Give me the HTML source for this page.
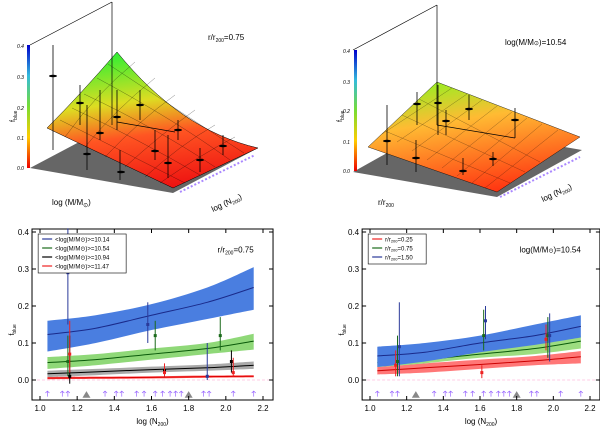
<!DOCTYPE html>
<html><head><meta charset="utf-8"><style>
body{margin:0;background:#fff;width:600px;height:427px;overflow:hidden;font-family:"Liberation Sans",sans-serif}
svg{position:absolute;left:0;top:0}
</style></head><body>
<svg id="s" width="600" height="427" xmlns="http://www.w3.org/2000/svg">
<defs>
<linearGradient id="cb" x1="0" y1="1" x2="0" y2="0"><stop offset="0" stop-color="#e00"/><stop offset="0.25" stop-color="#fc0"/><stop offset="0.5" stop-color="#7d3"/><stop offset="0.75" stop-color="#3bd"/><stop offset="1" stop-color="#00c"/></linearGradient>
<linearGradient id="sf1" x1="0.4" y1="0" x2="0.6" y2="1"><stop offset="0" stop-color="#3e3"/><stop offset="0.35" stop-color="#dd2"/><stop offset="0.6" stop-color="#f52"/><stop offset="1" stop-color="#e11"/></linearGradient>
<linearGradient id="sf2" x1="0.3" y1="0" x2="0.6" y2="1"><stop offset="0" stop-color="#9e2"/><stop offset="0.35" stop-color="#fb3"/><stop offset="1" stop-color="#f31"/></linearGradient>
</defs>
<g>
<polygon points="30,168 173,193 258,148 117,122" fill="#666"/>
<path d="M47,128 Q80,95 117,52 Q180,130 258,148 L173,188 Z" fill="url(#sf1)" stroke="#000" stroke-width="0.5"/>
<g stroke="#000" stroke-width="0.4" fill="none" opacity="0.6">
<path d="M60,120 Q120,150 185,183"/><path d="M72,108 Q140,140 200,175"/><path d="M84,94 Q160,130 215,167"/><path d="M97,78 Q175,120 230,160"/><path d="M108,64 Q185,115 244,153"/>
<path d="M65,137 Q95,95 135,62"/><path d="M85,147 Q115,110 155,78"/><path d="M105,157 Q140,120 175,95"/><path d="M125,167 Q160,135 195,110"/><path d="M145,177 Q180,145 215,125"/><path d="M160,183 Q200,155 235,137"/>
</g>
<line x1="112" y1="2" x2="112" y2="125" stroke="#000" stroke-width="0.7"/><line x1="112" y1="2" x2="30" y2="45" stroke="#000" stroke-width="0.7"/>
<line x1="117" y1="122" x2="175" y2="132" stroke="#000" stroke-width="0.7"/>
<rect x="27" y="45" width="3" height="123" fill="url(#cb)"/>
<g font-size="5" font-style="italic" fill="#000"><text x="17" y="48">0.4</text><text x="17" y="79">0.3</text><text x="17" y="110">0.2</text><text x="17" y="140">0.1</text><text x="17" y="170">0.0</text></g>
<text x="8" y="125" font-size="7" transform="rotate(-90 10 120)">f<tspan font-size="5" dy="2">blue</tspan></text>
<g stroke="#000" stroke-width="0.8"><line x1="53" y1="45" x2="53" y2="150"/><line x1="80" y1="85" x2="80" y2="125"/><line x1="87" y1="105" x2="87" y2="170"/><line x1="100" y1="90" x2="100" y2="140"/><line x1="117" y1="90" x2="117" y2="130"/><line x1="120" y1="150" x2="120" y2="180"/><line x1="140" y1="90" x2="140" y2="120"/><line x1="155" y1="130" x2="155" y2="160"/><line x1="168" y1="135" x2="168" y2="178"/><line x1="178" y1="120" x2="178" y2="140"/><line x1="200" y1="148" x2="200" y2="172"/><line x1="223" y1="135" x2="223" y2="155"/></g>
<g fill="#000"><ellipse cx="53" cy="76" rx="4" ry="1.3"/><ellipse cx="80" cy="103" rx="4" ry="1.3"/><ellipse cx="87" cy="154" rx="4" ry="1.3"/><ellipse cx="100" cy="133" rx="4" ry="1.3"/><ellipse cx="117" cy="117" rx="4" ry="1.3"/><ellipse cx="121" cy="172" rx="4" ry="1.3"/><ellipse cx="140" cy="105" rx="4" ry="1.3"/><ellipse cx="155" cy="151" rx="4" ry="1.3"/><ellipse cx="168" cy="163" rx="4" ry="1.3"/><ellipse cx="178" cy="130" rx="4" ry="1.3"/><ellipse cx="200" cy="160" rx="4" ry="1.3"/><ellipse cx="223" cy="146" rx="4" ry="1.3"/></g>
<text x="52" y="205" font-size="8">log (M/M<tspan font-size="6" dy="2">⊙</tspan><tspan dy="-2">)</tspan></text>
<text x="213" y="212" font-size="8" transform="rotate(-25 213 212)">log (N<tspan font-size="5" dy="2">200</tspan><tspan dy="-2">)</tspan></text>
<text x="208" y="40" font-size="8">r/r<tspan font-size="5" dy="2">200</tspan><tspan dy="-2">=0.75</tspan></text>
<line x1="180" y1="192" x2="255" y2="155" stroke="#a8f" stroke-width="2" stroke-dasharray="2 2"/>
</g>
<g>
<polygon points="353,172 497,197 582,150 437,125" fill="#666"/>
<polygon points="368,147 437,82 580,137 497,192" fill="url(#sf2)" stroke="#000" stroke-width="0.4"/>
<g stroke="#000" stroke-width="0.4" opacity="0.5">
<line x1="382" y1="134" x2="452" y2="88"/><line x1="397" y1="142" x2="467" y2="94"/><line x1="412" y1="151" x2="482" y2="100"/><line x1="427" y1="160" x2="497" y2="106"/><line x1="442" y1="168" x2="512" y2="112"/><line x1="457" y1="176" x2="527" y2="118"/><line x1="472" y1="183" x2="542" y2="124"/><line x1="485" y1="188" x2="558" y2="130"/>
<line x1="385" y1="131" x2="510" y2="183"/><line x1="402" y1="115" x2="525" y2="172"/><line x1="419" y1="99" x2="540" y2="162"/>
</g>
<line x1="437" y1="5" x2="437" y2="125" stroke="#000" stroke-width="0.7"/><line x1="437" y1="5" x2="353" y2="50" stroke="#000" stroke-width="0.7"/><line x1="437" y1="125" x2="515" y2="138" stroke="#000" stroke-width="0.7"/>
<rect x="354" y="50" width="3" height="121" fill="url(#cb)"/>
<g font-size="5" font-style="italic"><text x="343" y="53">0.4</text><text x="343" y="84">0.3</text><text x="343" y="113">0.2</text><text x="343" y="144">0.1</text><text x="343" y="173">0.0</text></g>
<text x="335" y="125" font-size="7" transform="rotate(-90 337 120)">f<tspan font-size="5" dy="2">blue</tspan></text>
<g stroke="#000" stroke-width="0.8"><line x1="387" y1="105" x2="387" y2="165"/><line x1="417" y1="92" x2="417" y2="125"/><line x1="438" y1="85" x2="438" y2="135"/><line x1="446" y1="110" x2="446" y2="135"/><line x1="469" y1="95" x2="469" y2="120"/><line x1="416" y1="140" x2="416" y2="172"/><line x1="463" y1="158" x2="463" y2="175"/><line x1="493" y1="152" x2="493" y2="166"/><line x1="515" y1="108" x2="515" y2="138"/></g>
<g fill="#000"><ellipse cx="387" cy="141" rx="4" ry="1.3"/><ellipse cx="417" cy="104" rx="4" ry="1.3"/><ellipse cx="438" cy="103" rx="4" ry="1.3"/><ellipse cx="446" cy="121" rx="4" ry="1.3"/><ellipse cx="469" cy="109" rx="4" ry="1.3"/><ellipse cx="416" cy="158" rx="4" ry="1.3"/><ellipse cx="463" cy="171" rx="4" ry="1.3"/><ellipse cx="493" cy="159" rx="4" ry="1.3"/><ellipse cx="515" cy="120" rx="4" ry="1.3"/></g>
<text x="378" y="205" font-size="8">r/r<tspan font-size="5" dy="2">200</tspan></text>
<text x="543" y="202" font-size="8" transform="rotate(-25 543 202)">log (N<tspan font-size="5" dy="2">200</tspan><tspan dy="-2">)</tspan></text>
<text x="505" y="45" font-size="8">log(M/M<tspan font-size="6">⊙</tspan>)=10.54</text>
<line x1="500" y1="197" x2="580" y2="157" stroke="#a8f" stroke-width="2" stroke-dasharray="2 2"/>
</g>
<g id="p1"></g>
<g id="p2"></g>
</svg>
<script>
const xs = [1.04, 1.3, 1.6, 1.9, 2.15];
const L_names = ['<log(M/M⊙)>=10.14','<log(M/M⊙)>=10.54','<log(M/M⊙)>=10.94','<log(M/M⊙)>=11.47'];
const L_mid = [[0.123,0.14,0.175,0.21,0.25],[0.047,0.055,0.07,0.085,0.105],[0.017,0.022,0.028,0.033,0.04],[0.005,0.006,0.007,0.009,0.01]];
const L_lo = [[0.077,0.1,0.135,0.165,0.19],[0.03,0.04,0.055,0.07,0.082],[0.008,0.013,0.02,0.025,0.03],[0.002,0.003,0.004,0.006,0.007]];
const L_hi = [[0.16,0.175,0.205,0.25,0.305],[0.062,0.07,0.085,0.1,0.125],[0.025,0.03,0.036,0.042,0.05],[0.008,0.009,0.01,0.012,0.013]];
const L_ptx = [[1.15,1.58,1.9],[1.15,1.62,1.97],[1.16,1.67,2.03],[1.16,1.67,2.04]];
const L_pty = [[0.29,0.15,0.01],[0.05,0.12,0.12],[0.01,0.025,0.05],[0.07,0.02,0.02]];
const L_plo = [[0.15,0.1,0],[0.01,0.08,0.08],[-0.01,0.01,0.02],[0.02,0.01,0.01]];
const L_phi = [[0.41,0.21,0.1],[0.12,0.16,0.17],[0.12,0.04,0.08],[0.16,0.045,0.06]];
const R_names = ['r/r200=0.25','r/r200=0.75','r/r200=1.50'];
const R_mid = [[0.025,0.033,0.042,0.052,0.063],[0.047,0.055,0.07,0.085,0.105],[0.065,0.075,0.1,0.12,0.145]];
const R_lo = [[0.015,0.02,0.03,0.04,0.045],[0.035,0.045,0.06,0.07,0.085],[0.035,0.05,0.075,0.095,0.115]];
const R_hi = [[0.035,0.045,0.055,0.065,0.078],[0.06,0.068,0.085,0.1,0.12],[0.09,0.1,0.12,0.15,0.175]];
const R_ptx = [[1.14,1.61,1.96],[1.15,1.62,1.97],[1.16,1.63,1.98]];
const R_pty = [[0.04,0.02,0.11],[0.05,0.12,0.12],[0.09,0.16,0.12]];
const R_plo = [[0.01,0.005,0.08],[0.01,0.08,0.06],[0.01,0.11,0.05]];
const R_phi = [[0.08,0.04,0.15],[0.12,0.19,0.17],[0.21,0.2,0.18]];
const arrowsX = [1.04,1.12,1.15,1.35,1.41,1.44,1.52,1.56,1.62,1.66,1.7,1.73,1.76,1.88,1.91,2.04,2.15];
const triX = [1.25,1.8];
const xTicks = [1.0,1.2,1.4,1.6,1.8,2.0,2.2];
const yTicks = [0.0,0.1,0.2,0.3,0.4];

const NS='http://www.w3.org/2000/svg';
function mk(p,t,a){const e=document.createElementNS(NS,t);for(const k in a)e.setAttribute(k,a[k]);p.appendChild(e);return e;}
function smooth(pts){ // catmull-rom through points
  let d='M'+pts[0][0]+','+pts[0][1];
  for(let i=0;i<pts.length-1;i++){
    const p0=pts[Math.max(i-1,0)],p1=pts[i],p2=pts[i+1],p3=pts[Math.min(i+2,pts.length-1)];
    d+=` C${p1[0]+(p2[0]-p0[0])/6},${p1[1]+(p2[1]-p0[1])/6} ${p2[0]-(p3[0]-p1[0])/6},${p2[1]-(p3[1]-p1[1])/6} ${p2[0]},${p2[1]}`;
  }
  return d;
}
function panel(g,x0,X1,names,mid,lo,hi,px,py,plo,phi,bandC,lineC,ptC,annot,legW){
  const sx=v=>x0+(v-1.0)*(X1-x0)/1.2, sy=v=>380-v*370;
  const fl=mk(g,'rect',{x:sx(0.957),y:229,width:sx(2.254)-sx(0.957),height:171,fill:'none',stroke:'#000','stroke-width':1});
  
  
  const z=mk(g,'line',{x1:sx(0.957),x2:sx(2.254),y1:sy(0),y2:sy(0),stroke:'#f9c','stroke-width':0.6,'stroke-dasharray':'3 2'});
  
  
  for(let i=0;i<mid.length;i++){
    const up=xs.map((x,j)=>[sx(x),sy(hi[i][j])]);
    const dn=xs.map((x,j)=>[sx(x),sy(lo[i][j])]).reverse();
    const d=smooth(up)+' L'+smooth(dn).slice(1)+'Z';
    const b=mk(g,'path',{d:d,fill:bandC[i]});
    
    
    const l=mk(g,'path',{d:smooth(xs.map((x,j)=>[sx(x),sy(mid[i][j])])),fill:'none',stroke:lineC[i],'stroke-width':1});
    
    
  }
  for(let i=0;i<px.length;i++)for(let j=0;j<px[i].length;j++){
    const e=mk(g,'line',{x1:sx(px[i][j]),x2:sx(px[i][j]),y1:sy(plo[i][j]),y2:sy(phi[i][j]),stroke:ptC[i],'stroke-width':1});
    
    
    const c=mk(g,'rect',{x:sx(px[i][j])-1.5,y:sy(py[i][j])-1.5,width:3,height:3,fill:ptC[i]});
    
    
  }
  arrowsX.forEach(a=>{const e=mk(g,'path',{d:`M${sx(a)},${sy(-0.045)} V${sy(-0.03)} M${sx(a)-2},${sy(-0.035)} L${sx(a)},${sy(-0.03)} L${sx(a)+2},${sy(-0.035)}`,stroke:'#96f',fill:'none','stroke-width':0.7});
    
    });
  triX.forEach(a=>{const e=mk(g,'polygon',{points:`${sx(a)-4},${sy(-0.048)} ${sx(a)+4},${sy(-0.048)} ${sx(a)},${sy(-0.03)}`,fill:'#888'});
    
    });
  xTicks.forEach(t=>{mk(g,'line',{x1:sx(t),x2:sx(t),y1:400,y2:396,stroke:'#000'});mk(g,'line',{x1:sx(t),x2:sx(t),y1:229,y2:233,stroke:'#000'});
    const tx=mk(g,'text',{x:sx(t),y:411,'font-size':8,'text-anchor':'middle'});tx.textContent=t.toFixed(1);
    
    });
  yTicks.forEach(t=>{mk(g,'line',{x1:sx(0.957),x2:sx(0.957)+4,y1:sy(t),y2:sy(t),stroke:'#000'});mk(g,'line',{x1:sx(2.254),x2:sx(2.254)-4,y1:sy(t),y2:sy(t),stroke:'#000'});
    const tx=mk(g,'text',{x:sx(0.957)-3,y:sy(t)+3,'font-size':8,'text-anchor':'end'});tx.textContent=t.toFixed(1);
    
    });
  const xt=mk(g,'text',{x:(sx(0.957)+sx(2.254))/2,y:424,'font-size':8,'text-anchor':'middle'});xt.innerHTML='log (N<tspan font-size="5" dy="2">200</tspan><tspan dy="-2">)</tspan>';
  
  
  const yt=mk(g,'text',{x:0,y:0,'font-size':7,transform:`translate(${sx(0.957)-18},${sy(0.12)}) rotate(-90)`});yt.innerHTML='f<tspan font-size="5" dy="2">blue</tspan>';
  
  
  const an=mk(g,'text',{x:sx(2.15),y:sy(0.345),'font-size':8,'text-anchor':'end'});an.innerHTML=annot;
  
  
  const lg=mk(g,'g',{});
  
  
  mk(lg,'rect',{x:sx(0.99),y:234,width:legW,height:names.length*9+3,fill:'#fff',stroke:'#000','stroke-width':0.6});
  names.forEach((n,i)=>{mk(lg,'line',{x1:sx(0.99)+4,x2:sx(0.99)+14,y1:239+i*9,y2:239+i*9,stroke:ptC[i],'stroke-width':1.2});
    const t=mk(lg,'text',{x:sx(0.99)+17,y:241.5+i*9,'font-size':6});
    if(n.startsWith('r/r200')) t.innerHTML='r/r<tspan font-size="4" dy="1">200</tspan><tspan dy="-1">'+n.slice(6)+'</tspan>';
    else t.textContent=n;
    
    });
}
panel(document.getElementById('p1'),40,263,L_names,L_mid,L_lo,L_hi,L_ptx,L_pty,L_plo,L_phi,
 ['#4a7ee0','#8fd878','#aaa','#f55'],['#1a2a8a','#0a5a0a','#000','#d00'],['#2a3a9a','#1a6a1a','#000','#e22'],
 'r/r<tspan font-size="5" dy="2">200</tspan><tspan dy="-2">=0.75</tspan>',88);
panel(document.getElementById('p2'),370,590,R_names,R_mid,R_lo,R_hi,R_ptx,R_pty,R_plo,R_phi,
 ['#f77','#9ddd80','#4a7ee0'],['#c00','#0a5a0a','#1a2a8a'],['#e22','#1a6a1a','#2a3a9a'],
 'log(M/M<tspan font-size="6">⊙</tspan>)=10.54',58);
</script>
</body></html>
